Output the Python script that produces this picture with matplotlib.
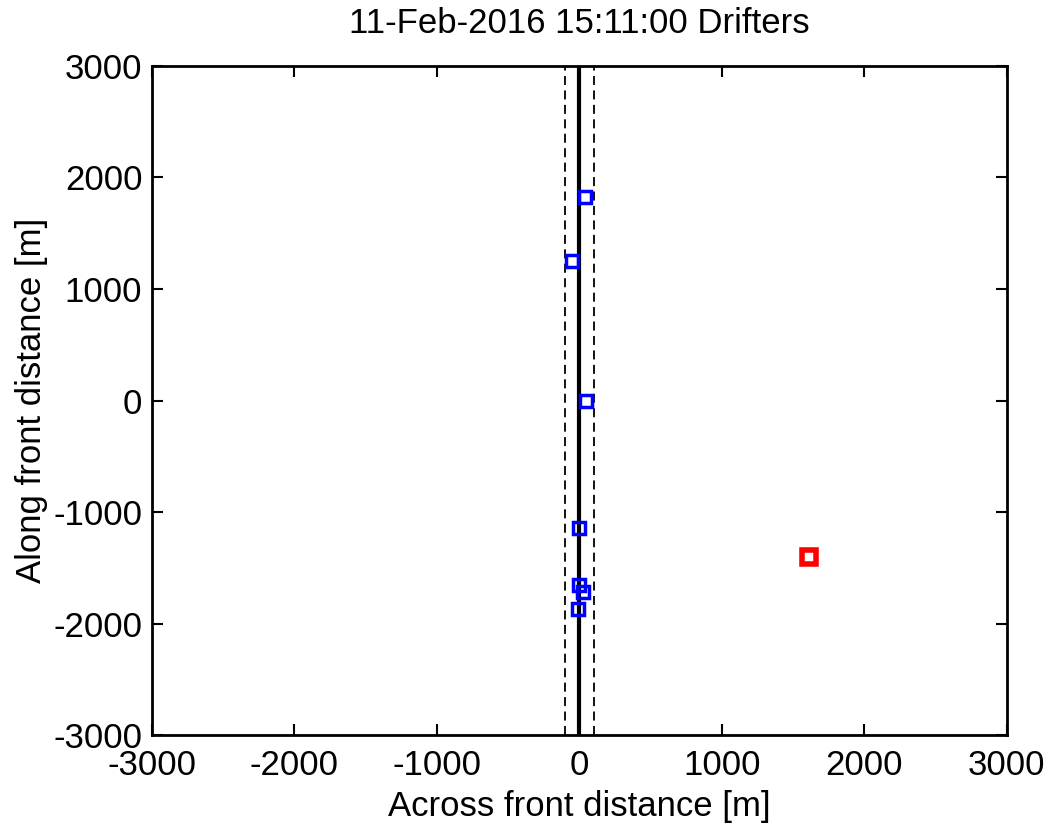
import matplotlib
matplotlib.use('Agg')
import matplotlib.pyplot as plt

# drifter positions (m)
across_blue = [39, -53, 46, -4, -4, 25, -11]
along_blue = [1825, 1251, -4, -1143, -1655, -1717, -1870]
across_red = [1611]
along_red = [-1404]
front_x = 0
band_half = 100

plt.rcParams['font.family'] = ['Liberation Sans', 'DejaVu Sans']
plt.rcParams['axes.unicode_minus'] = False

fig = plt.figure(figsize=(10.52, 8.33), dpi=100)
ax = fig.add_axes([0.1445, 0.1176, 0.8125, 0.8032])

ax.axvline(front_x, color='black', lw=3)
ax.axvline(front_x - band_half, color='black', lw=1.3, ls=(0, (5, 3)))
ax.axvline(front_x + band_half, color='black', lw=1.3, ls=(0, (5, 3)))

ax.plot(across_blue, along_blue, 's', ms=8, mfc='none', mec='#0000ff', mew=2.5)
ax.plot(across_red, along_red, 's', ms=10, mfc='none', mec='#ff0000', mew=4)

ax.set_xlim(-3000, 3000)
ax.set_ylim(-3000, 3000)
ax.set_xticks(range(-3000, 3001, 1000))
ax.set_yticks(range(-3000, 3001, 1000))
ax.tick_params(direction='in', length=8, width=1.5, top=True, right=True, labelsize=25, pad=7)
ax.tick_params(axis='x', pad=10)
for s in ax.spines.values():
    s.set_linewidth(2)

ax.set_xlabel('Across front distance [m]', fontsize=25, labelpad=6)
ax.set_ylabel('Along front distance [m]', fontsize=25, labelpad=4)
ax.set_title('11-Feb-2016 15:11:00 Drifters', fontsize=25, pad=24)

fig.savefig('out.png', dpi=100)
